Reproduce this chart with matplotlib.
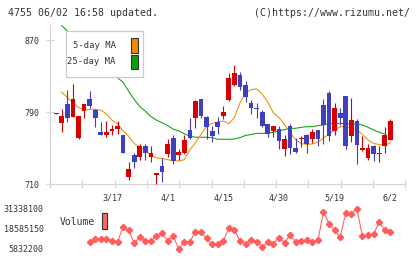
import numpy as np
import matplotlib
matplotlib.use("Agg")
import matplotlib.pyplot as plt
from matplotlib.patches import Rectangle

# 2020/3/3 - 6/2, one entry per trading day
opens = [788, 778, 799, 784, 761, 791, 804, 792, 768, 764,
         769, 771, 764, 718, 742, 740, 752, 740, 720, 730,
         743, 761, 742, 745, 770, 783, 804, 785, 769, 779,
         786, 803, 820, 831, 820, 800, 794, 790, 777, 769,
         771, 749, 774, 750, 760, 764, 760, 770, 798, 811,
         769, 789, 808, 763, 780, 748, 739, 752, 743, 752, 759]
highs = [789, 793, 815, 821, 786, 799, 813, 793, 779, 780,
         776, 780, 765, 735, 745, 754, 754, 752, 722, 739,
         760, 764, 749, 764, 783, 803, 805, 786, 774, 784,
         797, 833, 842, 835, 824, 803, 800, 792, 777, 775,
         774, 764, 777, 761, 763, 766, 771, 770, 805, 813,
         800, 794, 808, 806, 782, 763, 754, 753, 752, 773, 782]
lows = [788, 768, 779, 784, 760, 783, 795, 773, 764, 762,
        764, 766, 744, 715, 728, 737, 737, 735, 710, 712,
        740, 732, 737, 743, 760, 772, 783, 760, 757, 766,
        782, 802, 819, 815, 801, 788, 783, 773, 762, 762,
        749, 741, 743, 744, 751, 744, 756, 752, 755, 758,
        764, 776, 749, 757, 732, 747, 737, 736, 735, 745, 759]
closes = [789, 786, 783, 804, 786, 799, 797, 783, 764, 768,
          771, 775, 745, 727, 735, 752, 744, 745, 722, 723,
          754, 736, 746, 759, 761, 802, 786, 773, 763, 773,
          790, 828, 833, 818, 807, 794, 793, 774, 766, 774,
          758, 760, 750, 746, 761, 755, 768, 760, 776, 763,
          794, 783, 752, 781, 753, 750, 750, 743, 745, 764, 780]

nan = np.nan
ma5 = [nan, 812, 806, 800, 795, 792, 793, 793, 792, 788,
       781, 777, 769, 763, 755, 751, 747, 742, 739, 738.5,
       737, 736, 735.6, 737, 748, 756, 765, 774, 777.5, 779,
       780, 777, 784, 800, 811, 815, 815.6, 810, 801, 789,
       784, 776, 767, 759, 755, 754, 754.5, 756.5, 761, 765.5,
       770, 773.7, 773.5, 772, 770.5, 765, 759, 755, 754, 752.5, 756]
ma25 = [nan, 886, 880, 874, 868, 862, 856, 849, 843, 837,
        832, 828, 823, 813, 804, 796, 791, 785, 781, 778,
        775, 771, 769, 766, 763, 762, 762, 762, 761.5, 759.7,
        759.7, 759.7, 760, 761.5, 764, 765, 766.3, 766.3, 766.3, 767.5,
        769, 770.5, 771.9, 771.9, 773, 773.7, 773.7, 775, 775.6, 777,
        777.4, 777.4, 777, 776.7, 776.7, 775.6, 773, 770, 767.5, 765.5, nan]

# volume starts on 3/11 (7th trading day)
volume = [10290000, 12420000, 12420000, 12420000, 11150000, 10510000, 19860000, 17730000, 9660000, 13270000,
          11150000, 10930000, 13910000, 15820000, 11150000, 14120000, 5832200, 10510000, 10510000, 16880000,
          16880000, 12630000, 9020000, 9020000, 11150000, 19220000, 17950000, 11150000, 9020000, 11570000,
          10510000, 7110000, 10290000, 9230000, 13060000, 9870000, 14760000, 10510000, 11150000, 11360000,
          10290000, 11360000, 29640000, 21990000, 17950000, 13270000, 28790000, 28360000, 31338100, 14120000,
          14760000, 15180000, 23260000, 17730000, 16460000]
vol_start = 6

date_labels = ["3/17", "4/1", "4/15", "4/30", "5/19", "6/2"]
date_pos = [10, 20, 30, 40, 50, 60]

RED = "#d80000"
BLUE = "#3f3fbf"
ORANGE = "#f08c00"
GREEN = "#0aa00a"
VOLC = "#ff5c5c"
GRAY = "#d4d4d4"
TXT = "#333333"
FONT = "DejaVu Sans Mono"

W, H = 420, 259
fig = plt.figure(figsize=(W / 100, H / 100), dpi=100)


def fx(x):
    return x / W


def fy(y):
    return 1 - y / H


xlim = (-1.13, 62.7)
idx = np.arange(len(closes))
o = np.array(opens, float)
c = np.array(closes, float)

ax = fig.add_axes([fx(50), fy(184), fx(405.3) - fx(50), fy(25) - fy(184)])
ax.plot(idx, ma25, color=GREEN, lw=0.75, zorder=2)
ax.plot(idx, ma5, color=ORANGE, lw=0.75, zorder=2)

colors = np.where(c >= o, RED, BLUE)
ax.vlines(idx, lows, highs, colors=colors, lw=0.8, zorder=3, clip_on=False)
body_lo = np.minimum(o, c)
body_h = np.maximum(np.abs(c - o), 1.3)
ax.bar(idx, body_h, bottom=body_lo, width=0.85, color=colors, linewidth=0, zorder=3)

ax.set_xlim(xlim)
ax.set_ylim(710, 886.7)
for s in ["top", "right"]:
    ax.spines[s].set_visible(False)
for s in ["left", "bottom"]:
    ax.spines[s].set_color(GRAY)
    ax.spines[s].set_linewidth(0.8)

ax.set_xticks(np.linspace(xlim[0], xlim[1], 12))
ax.set_xticklabels([])
ax.set_xticks(date_pos, minor=True)
ax.set_xticklabels(date_labels, minor=True, fontfamily=FONT)
ax.tick_params(axis="x", which="major", direction="inout", length=6, width=0.8, color=GRAY)
ax.tick_params(axis="x", which="minor", length=0, pad=7, labelsize=6, labelcolor=TXT)
ax.set_yticks([710, 790, 870])
ax.set_yticklabels(["710", "790", "870"], fontfamily=FONT)
ax.tick_params(axis="y", direction="inout", length=5.8, width=0.8, color=GRAY,
               pad=5, labelsize=6, labelcolor=TXT)

# volume panel
vax = fig.add_axes([fx(50), fy(249), fx(405.3) - fx(50), fy(209) - fy(249)])
vmin, vmax = min(volume), max(volume)
vx = idx[vol_start:vol_start + len(volume)]
vax.plot(vx, volume, color=VOLC, lw=0.75, marker="D", ms=3.2, clip_on=False)
vax.set_xlim(xlim)
vax.set_ylim(vmin, vmax)
for s in vax.spines.values():
    s.set_visible(False)
vax.set_xticks([])
vticks = [vmin, (vmin + vmax) / 2, vmax]
vax.set_yticks(vticks)
vax.set_yticklabels([str(int(v)) for v in vticks], fontfamily=FONT)
vax.tick_params(axis="y", length=0, pad=4.5, labelsize=6, labelcolor=TXT)
vax.patch.set_alpha(0)

# header
fig.text(fx(8), fy(12.5), "4755 06/02 16:58 updated.", fontsize=7.1, family=FONT,
         color=TXT, ha="left", va="center")
fig.text(fx(410), fy(12.5), "(C)https://www.rizumu.net/", fontsize=7.1, family=FONT,
         color=TXT, ha="right", va="center")

# legend box
fig.add_artist(Rectangle((fx(65.7), fy(76.7)), fx(143.3) - fx(65.7), fy(30.7) - fy(76.7),
                         transform=fig.transFigure, facecolor="white", edgecolor="#cccccc", lw=0.9))
for label, col, yc in [("5-day MA", ORANGE, 45.5), ("25-day MA", GREEN, 61.8)]:
    fig.text(fx(115.5), fy(yc), label, fontsize=6.4, family=FONT, color=TXT, ha="right", va="center")
    fig.add_artist(Rectangle((fx(131.2), fy(yc + 7.3)), fx(137.5) - fx(131.2), fy(yc - 7.3) - fy(yc + 7.3),
                             transform=fig.transFigure, facecolor=col, edgecolor="#333333", lw=0.8))

fig.text(fx(94.5), fy(222.3), "Volume", fontsize=7, family=FONT, color=TXT, ha="right", va="center")
fig.add_artist(Rectangle((fx(101.7), fy(229)), fx(107.3) - fx(101.7), fy(213.3) - fy(229),
                         transform=fig.transFigure, facecolor="#ff6666", edgecolor="#333333", lw=0.8))

fig.savefig("out.png", dpi=100)
